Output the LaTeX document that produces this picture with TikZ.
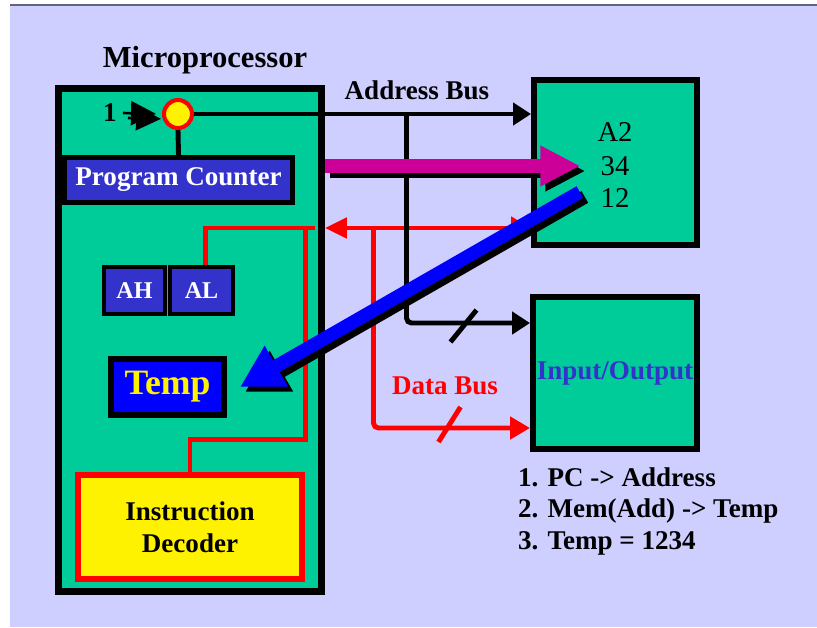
\documentclass[tikz,border=0pt]{standalone}
\usepackage{fontspec}
\setmainfont{Liberation Serif}[BoldFont={Liberation Serif Bold}]
\usepackage{tikz}
\usetikzlibrary{arrows.meta,positioning,calc}

\definecolor{bgpage}{RGB}{206,206,255}
\definecolor{chip}{RGB}{0,204,153}
\definecolor{regblue}{RGB}{51,51,204}
\definecolor{tempblue}{RGB}{0,0,255}
\definecolor{busmag}{RGB}{204,0,153}
\definecolor{shade}{RGB}{128,128,128}
\definecolor{rule}{RGB}{100,100,130}

\begin{document}
\begin{tikzpicture}[x=0.02cm,y=-0.02cm,
  txt/.style={font=\bfseries\fontsize{15.4}{18.2}\selectfont},
  box/.style={draw=black,fill=chip,line width=3.4pt,inner sep=0pt},
  reg/.style={draw=black,fill=regblue,text=white,line width=2.3pt,inner sep=0pt},
  num/.style={font=\fontsize{16.3}{19}\selectfont,inner sep=0pt},
  abus/.style={line width=2.8pt},
  dbus/.style={red,line width=2.8pt},
  fat/.style={line width=7.6pt},
  tip/.style={-{Triangle[length=0.4cm,width=0.44cm]}},
  drop/.style={shade,transform canvas={xshift=0.1cm,yshift=-0.1cm}}]
\useasboundingbox (0,0) rectangle (817,627);
\fill[white] (0,0) rectangle (817,627);
\fill[bgpage] (10,6) rectangle (817,627);
\draw[rule,line width=1.2pt] (10,5) -- (817,5);

% microprocessor
\node[box,line width=4pt,minimum width=5.26cm,minimum height=10.06cm] (micro) at (190,340) {};
\node[font=\bfseries\fontsize{17.4}{20}\selectfont] (title) at (205,60) {Microprocessor};
\node[reg,line width=2.85pt,minimum width=4.56cm,minimum height=0.9cm,txt] (pc) at (178.5,180) {Program Counter};
\node[reg,minimum width=1.22cm,minimum height=0.94cm,font=\bfseries\fontsize{13.7}{16}\selectfont] (ah) at (134.5,290.5) {AH};
\node[reg,minimum width=1.26cm,minimum height=0.94cm,font=\bfseries\fontsize{13.7}{16}\selectfont] (al) at (201.5,290.5) {AL};
\node[draw=black,fill=tempblue,text=yellow,line width=3.4pt,minimum width=2.26cm,minimum height=1.12cm,font=\bfseries\fontsize{20.3}{24}\selectfont] (temp) at (167.5,387) {Temp};
\node[draw=red,fill=yellow,line width=3.4pt,minimum width=4.48cm,minimum height=2.08cm,align=center,txt] (dec) at (190,527) {Instruction\\Decoder};
\node[circle,draw=red,fill=yellow,line width=2.3pt,minimum size=0.56cm,inner sep=0pt] (pcin) at (178,114) {};
\node[txt] (one) at (110,113) {1};

% memory and i/o
\node[box,minimum width=3.26cm,minimum height=3.3cm] (mem) at (615.5,162.5) {};
\node[num] (a2) at (615,132) {A2};
\node[num] (b34) at (615,166) {34};
\node[num] (b12) at (615,198) {12};
\node[box,minimum width=3.28cm,minimum height=3.04cm,text=regblue,txt] (io) at (615,373) {Input/Output};

\node[txt] (alabel) at (417,90) {Address Bus};
\node[txt,red] (dlabel) at (445,386) {Data Bus};
\node[txt,anchor=west] (step1) at (512,477) {1. PC -> Address};
\node[txt,anchor=west] (step2) at (512,511) {2. Mem(Add) -> Temp};
\node[txt,anchor=west] (step3) at (512,543) {3. Temp = 1234};

\coordinate (memdata) at ([yshift=-1.31cm]mem.west);
\coordinate (ioaddr) at ([yshift=1cm]io.west);
\coordinate (iodata) at ([yshift=-1.1cm]io.west);
\coordinate (abr) at ($(micro.east |- pcin)+(81.5,0)$);
\coordinate (dbr) at ($(micro.east |- memdata)+(48.5,0)$);
\coordinate (djn) at ($(micro.east |- memdata)+(-19.5,0)$);

% data bus
\draw[dbus,shorten >=0.2cm] ([xshift=0.08cm]al.north) |- (micro.east |- memdata);
\draw[dbus] (dec.north) -- ++(0,-33) -| (djn);
\draw[dbus,{Triangle[length=0.44cm,width=0.4cm]}-{Triangle[length=0.4cm,width=0.44cm]}] (micro.east |- memdata) -- (memdata);
\draw[dbus,rounded corners=0.1cm,tip] (dbr) |- (iodata);
\draw[dbus] ($(dbr |- iodata)+(65,14)$) -- ++(22,-35);

% address bus
\draw[drop,line width=1.5pt,-{Triangle[length=0.5cm,width=0.48cm]},shorten >=0.12cm] (one.east) -- (pcin.west);
\draw[line width=1.5pt,-{Triangle[length=0.5cm,width=0.48cm]},shorten >=0.12cm] (one.east) -- (pcin.west);
\draw[abus] (pcin.south) -- (pc.north);
\draw[abus,-{Triangle[length=0.36cm,width=0.44cm]}] (pcin.east) -- (mem.west |- pcin);
\draw[abus,rounded corners=0.1cm,-{Triangle[length=0.36cm,width=0.44cm]}] (abr) |- (ioaddr);
\draw[abus] ($(abr |- ioaddr)+(44,19)$) -- ++(26,-32);

% fetch arrows
\draw[drop,fat,-{Triangle[length=0.8cm,width=0.76cm]}] (micro.east |- b34) -- ([xshift=-0.4cm]b34.west);
\draw[fat,busmag,-{Triangle[length=0.8cm,width=0.76cm]}] (micro.east |- b34) -- ([xshift=-0.4cm]b34.west);
\draw[drop,fat,-{Triangle[length=0.84cm,width=0.88cm]}] ([xshift=-0.41cm,yshift=0.12cm]b12.west) -- ([xshift=0.26cm]temp.east);
\draw[fat,tempblue,-{Triangle[length=0.84cm,width=0.88cm]}] ([xshift=-0.41cm,yshift=0.12cm]b12.west) -- ([xshift=0.26cm]temp.east);
\end{tikzpicture}
\end{document}
